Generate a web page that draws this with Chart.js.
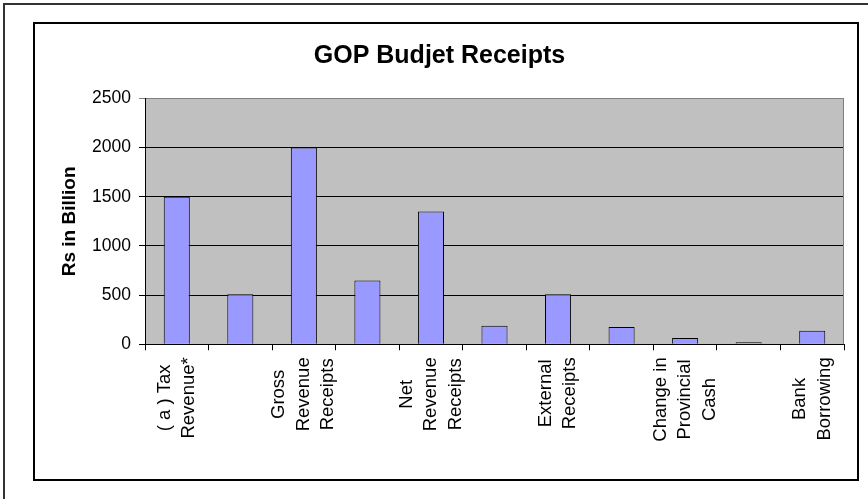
<!DOCTYPE html>
<html>
<head>
<meta charset="utf-8">
<script src="https://cdn.jsdelivr.net/npm/chart.js@4.4.0/dist/chart.umd.min.js"></script>
<style>
  html, body { margin: 0; padding: 0; background: #fff; width: 868px; height: 499px; overflow: hidden; }
  #outer { position: absolute; left: 3px; top: 3px; width: 900px; height: 520px;
           border-left: 2px solid #333; border-top: 2px solid #333; }
  #inner { position: absolute; left: 33px; top: 22px; width: 822px; height: 455px;
           border: 2px solid #000; background: #fff; }
  canvas { display: block; }
</style>
</head>
<body>
<div id="outer"></div>
<div id="inner"><canvas id="c" width="822" height="455"></canvas></div>
<script>
const chartTitle = 'GOP Budjet Receipts';
const yAxisTitle = 'Rs in Billion';
const categories = [
  ['( a ) Tax', 'Revenue*'],
  '',
  ['Gross', 'Revenue', 'Receipts'],
  '',
  ['Net', 'Revenue', 'Receipts'],
  '',
  ['External', 'Receipts'],
  '',
  ['Change in', 'Provincial', 'Cash'],
  '',
  ['Bank', 'Borrowing']
];
const values = [1500, 510, 2000, 648, 1350, 188, 510, 176, 64, 20, 138];
const yTicks = [0, 500, 1000, 1500, 2000, 2500];

const FONT = '"Liberation Sans", Arial, Helvetica, sans-serif';

const framePlugin = {
  id: 'framePlugin',
  beforeDraw(chart) {
    const { ctx, chartArea: a } = chart;
    ctx.save();
    ctx.fillStyle = '#C0C0C0';
    ctx.fillRect(a.left, a.top, a.right - a.left, a.bottom - a.top);
    ctx.restore();
  },
  afterDraw(chart) {
    const { ctx, chartArea: a } = chart;
    ctx.save();
    ctx.strokeStyle = '#808080';
    ctx.lineWidth = 1;
    ctx.beginPath();
    ctx.moveTo(a.right - 0.5, a.top);
    ctx.lineTo(a.right - 0.5, a.bottom);
    ctx.stroke();
    ctx.restore();

    // category labels, rotated, lines centred on each other
    const xs = chart.scales.x;
    ctx.save();
    ctx.font = '18.5px ' + FONT;
    ctx.fillStyle = '#000';
    ctx.textAlign = 'center';
    ctx.textBaseline = 'middle';
    const lh = 24.5;
    categories.forEach((lab, i) => {
      const lines = Array.isArray(lab) ? lab : (lab ? [lab] : []);
      if (!lines.length) return;
      const maxW = Math.max(...lines.map(l => ctx.measureText(l).width));
      const x = xs.getPixelForValue(i);
      const y = xs.top + 13;
      ctx.save();
      ctx.translate(x, y);
      ctx.rotate(-Math.PI / 2);
      lines.forEach((l, k) => {
        ctx.fillText(l, -maxW / 2, (k - (lines.length - 1) / 2) * lh);
      });
      ctx.restore();
    });
    ctx.restore();
  }
};

new Chart(document.getElementById('c'), {
  type: 'bar',
  data: {
    labels: categories,
    datasets: [{
      data: values,
      backgroundColor: '#9999FF',
      borderColor: '#000000',
      borderWidth: 1,
      barPercentage: 0.41,
      categoryPercentage: 1.0
    }]
  },
  options: {
    responsive: false,
    devicePixelRatio: 1,
    animation: false,
    layout: { padding: { left: 0, right: 13, top: 0, bottom: 0 } },
    plugins: {
      legend: { display: false },
      tooltip: { enabled: false },
      title: {
        display: true,
        text: chartTitle,
        color: '#000',
        font: { family: FONT, size: 25, weight: 'bold' },
        padding: { top: 17.4, bottom: 27 }
      }
    },
    scales: {
      x: {
        afterFit(scale) { scale.height = 134.7; },
        grid: { display: true, drawOnChartArea: false, drawTicks: true, tickLength: 6, color: '#000', offset: true },
        border: { display: true, color: '#000', width: 1 },
        ticks: { display: false }
      },
      y: {
        min: 0,
        max: 2500,
        afterFit(scale) { scale.width = 110; },
        afterBuildTicks(scale) { scale.ticks = yTicks.map(v => ({ value: v })); },
        grid: {
          color: ctx => (ctx.tick && ctx.tick.value === 2500) ? '#808080' : '#000',
          lineWidth: 1,
          tickLength: 6,
          drawTicks: true
        },
        border: { display: true, color: '#000', width: 1 },
        ticks: {
          color: '#000',
          padding: 8,
          font: { family: FONT, size: 17.5 },
          callback: v => String(v)
        },
        title: {
          display: true,
          text: yAxisTitle,
          color: '#000',
          font: { family: FONT, size: 19, weight: 'bold' },
          padding: { top: 23.5, bottom: 0 }
        }
      }
    }
  },
  plugins: [framePlugin]
});
</script>
</body>
</html>
